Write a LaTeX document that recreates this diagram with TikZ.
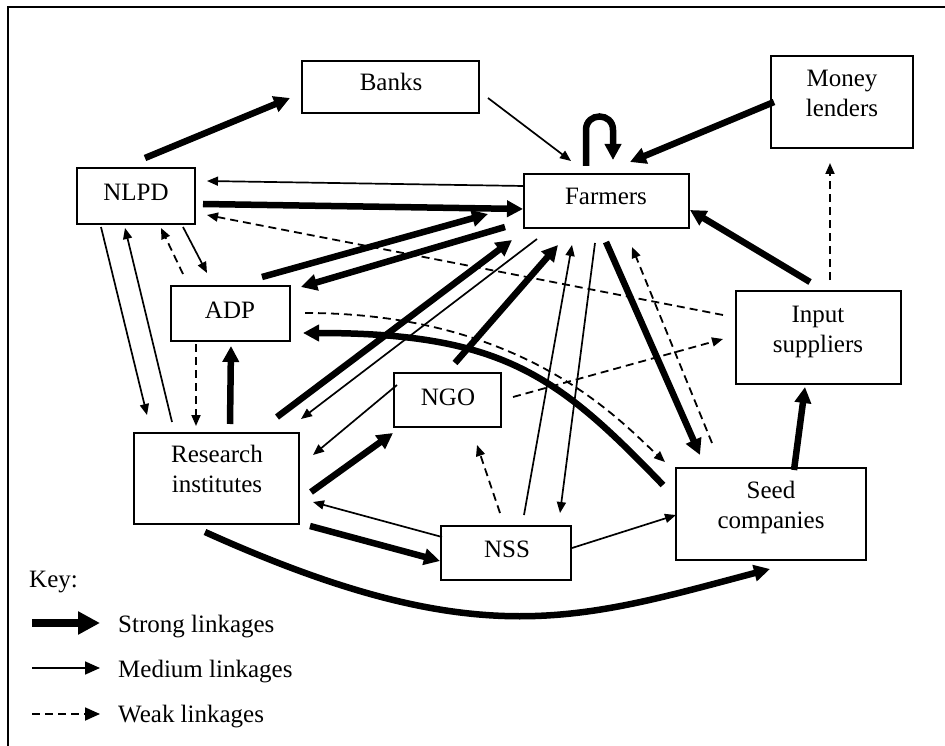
\documentclass[tikz,border=0pt]{standalone}
\usepackage{fontspec}
\setmainfont{Liberation Serif}
\usetikzlibrary{arrows.meta}
\tikzset{
  box/.style={draw, line width=2pt, inner sep=0pt},
  strong/.style={line width=6.5pt, -{Triangle[length=16pt,width=16pt]}},
  medium/.style={line width=1.7pt, -{Triangle[length=11pt,width=9pt]}},
  weak/.style={line width=1.8pt, dash pattern=on 8pt off 5pt, -{Triangle[length=11pt,width=9pt]}},
  lbl/.style={font=\fontsize{25}{30}\selectfont, inner sep=0pt, anchor=base},
  keylbl/.style={font=\fontsize{25}{30}\selectfont, inner sep=0pt, anchor=base west},
}
\newcommand{\twoline}[2]{\begin{tabular}[t]{@{}c@{}}#1\\#2\end{tabular}}
\begin{document}
\begin{tikzpicture}[x=1pt,y=-1pt]
\useasboundingbox (0,0) rectangle (945,746);
\fill[white] (0,0) rectangle (945,746);
% frame
\draw[line width=1.6pt] (945,7) -- (8,7) -- (8,746);

% boxes
\node[box, minimum width=177pt, minimum height=52pt] (banks) at (390,87) {};
\node[box, minimum width=142pt, minimum height=92pt] (money) at (842,102) {};
\node[box, minimum width=118pt, minimum height=56pt] (nlpd) at (136,196) {};
\node[box, minimum width=165pt, minimum height=54pt] (farm) at (606,201) {};
\node[box, minimum width=119pt, minimum height=55pt] (adp) at (230,313) {};
\node[box, minimum width=165pt, minimum height=93pt] (input) at (818,337) {};
\node[box, minimum width=107pt, minimum height=54pt] (ngo) at (447,400) {};
\node[box, minimum width=165pt, minimum height=91pt] (res) at (216,478) {};
\node[box, minimum width=130pt, minimum height=54pt] (nss) at (506,553) {};
\node[box, minimum width=190pt, minimum height=92pt] (seed) at (771,514) {};

% texts
\node[lbl] (banksT) at (391,91) {Banks};
\node[lbl] (moneyT) at (842,87) {\twoline{Money}{lenders}};
\node[lbl] (nlpdT) at (136,201) {NLPD};
\node[lbl] (farmT) at (606,205) {Farmers};
\node[lbl] (adpT) at (230,318) {ADP};
\node[lbl] (inputT) at (818,322) {\twoline{Input}{suppliers}};
\node[lbl] (ngoT) at (448,405) {NGO};
\node[lbl] (resT) at (217,462) {\twoline{Research}{institutes}};
\node[lbl] (nssT) at (507,557) {NSS};
\node[lbl] (seedT) at (771,498) {\twoline{Seed}{companies}};

% connectors
\draw[strong] ([shift={(9,-38)}]nlpd.center) -- ([shift={(-100,11)}]banks.center);
\draw[medium] ([shift={(98,11)}]banks.center) -- ([shift={(-35,-40)}]farm.center);
\draw[strong] ([shift={(-20,-35)}]farm.center) -- ++(0,-36)
   .. controls +(0,-18) and +(0,-18) .. ([shift={(7,-71)}]farm.center)
   -- ([shift={(7,-41)}]farm.center);
\draw[strong] ([shift={(-68,0)}]money.center) -- ([shift={(24,-39)}]farm.center);
\draw[medium] ([shift={(-82,-15)}]farm.center) -- ([shift={(71,-15)}]nlpd.center);
\draw[strong] ([shift={(67,8)}]nlpd.center) -- ([shift={(-83,8)}]farm.center);
\draw[weak] ([shift={(-95,-22)}]input.center) -- ([shift={(71,19)}]nlpd.center);
\draw[strong] ([shift={(32,-36)}]adp.center) -- ([shift={(-118,13)}]farm.center);
\draw[strong] ([shift={(-101,26)}]farm.center) -- ([shift={(71,-26)}]adp.center);
\draw[medium] ([shift={(47,31)}]nlpd.center) -- ([shift={(-23,-40)}]adp.center);
\draw[weak] ([shift={(-47,-39)}]adp.center) -- ([shift={(25,32)}]nlpd.center);
\draw[medium] ([shift={(-35,31)}]nlpd.center) -- ([shift={(-69,-63)}]res.center);
\draw[medium] ([shift={(-44,-56)}]res.center) -- ([shift={(-11,32)}]nlpd.center);
\draw[weak] ([shift={(-34,31)}]adp.center) -- ([shift={(-20,-52)}]res.center);
\draw[strong] ([shift={(14,-54)}]res.center) -- ([shift={(1,33)}]adp.center);
\draw[strong] ([shift={(61,-61)}]res.center) -- ([shift={(-94,39)}]farm.center);
\draw[medium] ([shift={(-69,38)}]farm.center) -- ([shift={(85,-59)}]res.center);
\draw[strong] ([shift={(8,-37)}]ngo.center) -- ([shift={(-48,44)}]farm.center);
\draw[medium] ([shift={(-50,-15)}]ngo.center) -- ([shift={(97,-23)}]res.center);
\draw[strong] ([shift={(95,14)}]res.center) -- ([shift={(-54,33)}]ngo.center);
\draw[medium] ([shift={(-64,-16)}]nss.center) -- ([shift={(97,24)}]res.center);
\draw[strong] ([shift={(94,48)}]res.center) -- ([shift={(-66,8)}]nss.center);
\draw[strong] ([shift={(-11,54)}]res.center) .. controls (478,655) and (577,620) .. ([shift={(-1,55)}]seed.center);
\draw[medium] ([shift={(66,-5)}]nss.center) -- ([shift={(-95,1)}]seed.center);
\draw[weak] ([shift={(-6,-40)}]nss.center) -- ([shift={(30,45)}]ngo.center);
\draw[medium] ([shift={(18,-38)}]nss.center) -- ([shift={(-34,44)}]farm.center);
\draw[medium] ([shift={(-11,42)}]farm.center) -- ([shift={(54,-40)}]nss.center);
\draw[strong] ([shift={(0,41)}]farm.center) -- ([shift={(-71,-59)}]seed.center);
\draw[weak] ([shift={(-59,-71)}]seed.center) -- ([shift={(26,46)}]farm.center);
\draw[weak] ([shift={(75,0)}]adp.center) .. controls (525,313) and (621,422) .. ([shift={(-106,-52)}]seed.center);
\draw[strong] ([shift={(-108,-29)}]seed.center) .. controls (558,376) and (503,333) .. ([shift={(73,20)}]adp.center);
\draw[weak] ([shift={(66,-3)}]ngo.center) -- ([shift={(-95,2)}]input.center);
\draw[strong] ([shift={(-8,-55)}]input.center) -- ([shift={(84,9)}]farm.center);
\draw[weak] ([shift={(12,-57)}]input.center) -- ([shift={(-12,61)}]money.center);
\draw[strong] ([shift={(23,-44)}]seed.center) -- ([shift={(-13,50)}]input.center);

% key
\node[keylbl] (keyT) at (29,587) {Key:};
\coordinate (ks1) at (32,623); \coordinate (ks2) at (100,623);
\coordinate (km1) at (32,668); \coordinate (km2) at (100,668);
\coordinate (kw1) at (32,714); \coordinate (kw2) at (100,714);
\draw[line width=8pt, -{Triangle[length=22pt,width=22pt]}] (ks1) -- (ks2);
\draw[line width=1.7pt, -{Triangle[length=15pt,width=13pt]}] (km1) -- (km2);
\draw[line width=1.8pt, dash pattern=on 8pt off 5pt, -{Triangle[length=15pt,width=13pt]}] (kw1) -- (kw2);
\node[keylbl] (strongT) at (118,632) {Strong linkages};
\node[keylbl] (mediumT) at (118,677) {Medium linkages};
\node[keylbl] (weakT) at (118,722) {Weak linkages};
\end{tikzpicture}
\end{document}
